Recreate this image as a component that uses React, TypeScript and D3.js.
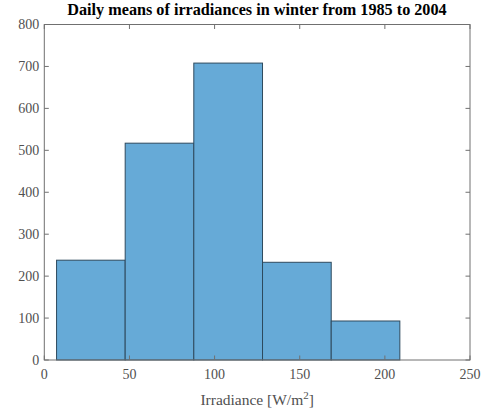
import React from "react";
import * as d3 from "d3";

const binEdges = [7.2, 47.5, 87.8, 128.15, 168.5, 208.8];
const counts = [238, 517, 708, 233, 93];
const xTicks = [0, 50, 100, 150, 200, 250];
const yTicks = [0, 100, 200, 300, 400, 500, 600, 700, 800];
const title = "Daily means of irradiances in winter from 1985 to 2004";

export default function App() {
  const W = 487, H = 415;
  const left = 44.3, right = 470, top = 24.5, bottom = 360;
  const x = d3.scaleLinear().domain([0, 250]).range([left, right]);
  const y = d3.scaleLinear().domain([0, 800]).range([bottom, top]);
  const font = "'Liberation Serif', 'DejaVu Serif', serif";
  const axisColor = "#707070";
  const textColor = "#505050";
  const tl = 4.5;
  const bars = counts.map((c, i) => ({ x0: binEdges[i], x1: binEdges[i + 1], c }));
  return (
    <svg width={W} height={H} style={{ position: "absolute", left: 0, top: 0 }}>
      <rect x={0} y={0} width={W} height={H} fill="#fff" />
      {bars.map((b, i) => (
        <rect key={i} x={x(b.x0)} y={y(b.c)} width={x(b.x1) - x(b.x0)} height={y(0) - y(b.c)}
          fill="#66aad7" stroke="#2e4a5e" strokeWidth={1} />
      ))}
      <rect x={left} y={top} width={right - left} height={bottom - top} fill="none" stroke={axisColor} strokeWidth={1} />
      {xTicks.map((t) => (
        <g key={"x" + t}>
          <line x1={x(t)} x2={x(t)} y1={bottom} y2={bottom - tl} stroke={axisColor} />
          <line x1={x(t)} x2={x(t)} y1={top} y2={top + tl} stroke={axisColor} />
          <text x={x(t)} y={bottom + 18.5} textAnchor="middle" fontFamily={font} fontSize={14} fill={textColor}>{t}</text>
        </g>
      ))}
      {yTicks.map((t) => (
        <g key={"y" + t}>
          <line x1={left} x2={left + tl} y1={y(t)} y2={y(t)} stroke={axisColor} />
          <line x1={right} x2={right - tl} y1={y(t)} y2={y(t)} stroke={axisColor} />
          <text x={left - 5} y={y(t) + 4.8} textAnchor="end" fontFamily={font} fontSize={14} fill={textColor}>{t}</text>
        </g>
      ))}
      <text x={(left + right) / 2} y={405} textAnchor="middle" fontFamily={font} fontSize={15.5} fill={textColor}>
        Irradiance [W/m<tspan dy={-6} fontSize={11}>2</tspan><tspan dy={6}>]</tspan>
      </text>
      <text x={257} y={15} textAnchor="middle" fontFamily={font} fontSize={16.2} fontWeight="bold" fill="#000">
        {title}
      </text>
    </svg>
  );
}
